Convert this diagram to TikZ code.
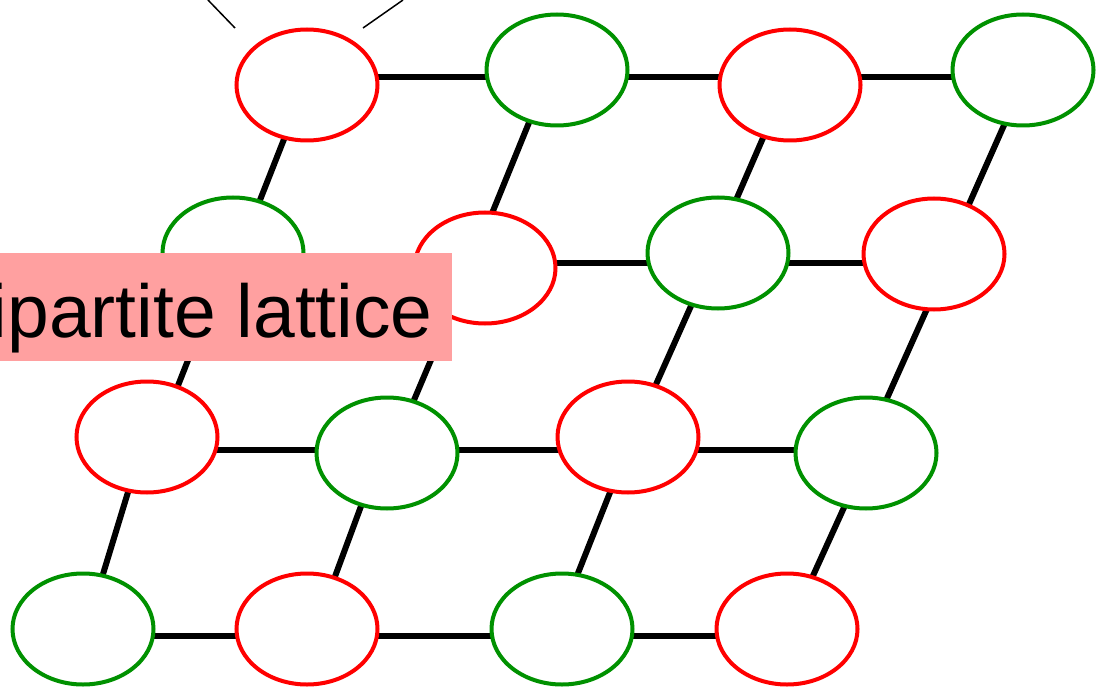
\documentclass[tikz,border=0pt]{standalone}
\usepackage{fontspec}
\setmainfont{Liberation Sans}
\usetikzlibrary{shapes.geometric,backgrounds}
\definecolor{nodered}{RGB}{255,0,0}
\definecolor{nodegreen}{RGB}{0,145,0}
\definecolor{labelpink}{RGB}{255,160,160}
\begin{document}
\begin{tikzpicture}[x=1pt,y=-1pt,
  site/.style={ellipse, draw, line width=4pt, fill=white,
    minimum width=141pt, minimum height=111pt, inner sep=0pt},
  redsite/.style={site, draw=nodered},
  greensite/.style={site, draw=nodegreen},
  bond/.style={line width=6pt, black, shorten <=-3pt, shorten >=-3pt},
  faintline/.style={line width=1.5pt, black}]
\useasboundingbox (0,0) rectangle (1097,687);

% lattice sites, row by row
\node[redsite]   (a1) at (307,85)  {};
\node[greensite] (a2) at (557,70)  {};
\node[redsite]   (a3) at (790,85)  {};
\node[greensite] (a4) at (1023,70) {};

\node[greensite] (b1) at (233,253) {};
\node[redsite]   (b2) at (485,268) {};
\node[greensite] (b3) at (718,253) {};
\node[redsite]   (b4) at (934,254) {};

\node[redsite]   (c1) at (147,437) {};
\node[greensite] (c2) at (387,453) {};
\node[redsite]   (c3) at (628,437) {};
\node[greensite] (c4) at (866,453) {};

\node[greensite] (d1) at (83,629)  {};
\node[redsite]   (d2) at (307,629) {};
\node[greensite] (d3) at (562,629) {};
\node[redsite]   (d4) at (787,629) {};

% heights of the horizontal bonds
\coordinate (row1) at (0,77);
\coordinate (row2) at (0,263);
\coordinate (row3) at (0,450);
\coordinate (row4) at (0,636);

% free ends of the two thin strokes at the top
\coordinate (ta) at (208,0);
\coordinate (tb) at (235,28);
\coordinate (tc) at (363,28);
\coordinate (td) at (403,0);

\begin{scope}[on background layer]
  % horizontal bonds
  \draw[bond] (a1 |- row1) -- (a2 |- row1);
  \draw[bond] (a2 |- row1) -- (a3 |- row1);
  \draw[bond] (a3 |- row1) -- (a4 |- row1);
  \draw[bond] (b1 |- row2) -- (b2 |- row2);
  \draw[bond] (b2 |- row2) -- (b3 |- row2);
  \draw[bond] (b3 |- row2) -- (b4 |- row2);
  \draw[bond] (c1 |- row3) -- (c2 |- row3);
  \draw[bond] (c2 |- row3) -- (c3 |- row3);
  \draw[bond] (c3 |- row3) -- (c4 |- row3);
  \draw[bond] (d1 |- row4) -- (d2 |- row4);
  \draw[bond] (d2 |- row4) -- (d3 |- row4);
  \draw[bond] (d3 |- row4) -- (d4 |- row4);
  % slanted bonds between rows
  \draw[bond] (a1.247) -- (b1.63);
  \draw[bond] (a2.242) -- (b2.82);
  \draw[bond] (a3.243) -- (b3.71);
  \draw[bond] (a4.251) -- (b4.55);
  \draw[bond] (b1.246) -- (c1.59);
  \draw[bond] (b2.234) -- (c2.63);
  \draw[bond] (b3.243) -- (c3.62);
  \draw[bond] (b4.262) -- (c4.69);
  \draw[bond] (c1.251) -- (d1.70);
  \draw[bond] (c2.244) -- (d2.62);
  \draw[bond] (c3.252) -- (d3.74);
  \draw[bond] (c4.248) -- (d4.64);
\end{scope}

\draw[faintline] (ta) -- (tb);
\draw[faintline] (tc) -- (td);

% caption box
\node[fill=labelpink, minimum width=452pt, minimum height=108pt,
      anchor=north west, inner sep=0pt] (tagbox) at (0,253) {};
\node[anchor=base east, inner sep=0pt,
      font=\fontsize{75pt}{80pt}\selectfont] (tag) at (433,337) {ipartite lattice};
\end{tikzpicture}
\end{document}
